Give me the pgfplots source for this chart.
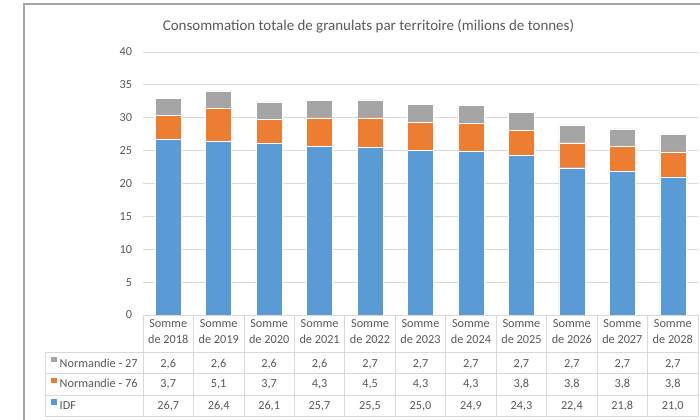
\documentclass[border=0pt]{standalone}
\usepackage{fontspec}
\setmainfont{Carlito}
\usepackage{pgfplots}
\usepackage{pgfplotstable}
\pgfplotsset{compat=1.18}
\definecolor{cblue}{HTML}{5B9BD5}
\definecolor{corange}{HTML}{ED7D31}
\definecolor{cgray}{HTML}{A5A5A5}
\definecolor{txt}{HTML}{595959}
\definecolor{gridc}{HTML}{D9D9D9}
\definecolor{framec}{HTML}{A6A6A6}
\pgfplotstableread{
x idf n76 n27
0 26.7 3.7 2.6
1 26.4 5.1 2.6
2 26.1 3.7 2.6
3 25.7 4.3 2.6
4 25.5 4.5 2.7
5 25.0 4.3 2.7
6 24.9 4.3 2.7
7 24.3 3.8 2.7
8 22.4 3.8 2.7
9 21.8 3.8 2.7
10 21.0 3.8 2.7
}\data
\newcommand{\tf}{\fontsize{12.3}{16}\selectfont}
\pgfkeys{/pgf/number format/.cd, assume math mode=true}
\begin{document}
\begin{tikzpicture}
\path[use as bounding box] (0,0) rectangle (700bp,420bp);
\begin{axis}[
  at={(143bp,105bp)}, anchor=south west,
  width=555bp, height=263bp, scale only axis,
  ymin=0, ymax=40, xmin=-0.5, xmax=10.5,
  ybar stacked, bar width=26bp,
  ytick={0,5,...,40},
  ymajorgrids, grid style={gridc, line width=0.8pt},
  axis line style={draw=none},
  major tick length=0pt,
  xtick={0,...,10},
  xticklabels={Somme\\de 2018,Somme\\de 2019,Somme\\de 2020,Somme\\de 2021,Somme\\de 2022,Somme\\de 2023,Somme\\de 2024,Somme\\de 2025,Somme\\de 2026,Somme\\de 2027,Somme\\de 2028},
  xticklabel style={align=center, font=\tf, text=txt, anchor=north, yshift=-1bp},
  yticklabel style={font=\tf, text=txt, anchor=east, xshift=-7.5bp},
  /pgf/number format/assume math mode=true,
  clip=false,
]
\addplot[fill=cblue, draw=white, line width=0.4pt] table[x=x,y=idf]{\data};
\addplot[fill=corange, draw=white, line width=0.4pt] table[x=x,y=n76]{\data};
\addplot[fill=cgray, draw=white, line width=0.4pt] table[x=x,y=n27]{\data};
\end{axis}
\begin{scope}[x=1bp,y=1bp]
  \node[text=txt, font=\fontsize{15}{18}\selectfont] at (368.5,394) {Consommation totale de granulats par territoire (milions de tonnes)};
  % table grid
  \draw[gridc, line width=0.8pt] (143,105) -- (698,105);
  \foreach \yy in {68,47,25,4} {\draw[gridc, line width=0.8pt] (45,\yy) -- (698,\yy);}
  \draw[gridc, line width=0.8pt] (45,68) -- (45,4);
  \foreach \k in {0,...,11} {\draw[gridc, line width=0.8pt] ({143+50.4545*\k},105) -- ({143+50.4545*\k},4);}
  % legend column
  \fill[cgray] (51,57.5) rectangle (56.5,63);
  \fill[corange] (51,36.5) rectangle (56.5,42);
  \fill[cblue] (51,15) rectangle (56.5,20.5);
  \node[anchor=base west, inner sep=0, text=txt, font=\tf] at (59.5,52.8) {Normandie - 27};
  \node[anchor=base west, inner sep=0, text=txt, font=\tf] at (59.5,32.1) {Normandie - 76};
  \node[anchor=base west, inner sep=0, text=txt, font=\tf] at (59.5,10.4) {IDF};
  \foreach \i in {0,...,10} {
    \pgfplotstablegetelem{\i}{n27}\of\data \let\va\pgfplotsretval
    \node[anchor=base, inner sep=0, text=txt, font=\tf] at ({143+50.4545*(\i+0.5)},52.8) {\pgfmathprintnumber[fixed,fixed zerofill,precision=1,use comma,assume math mode=true]{\va}};
    \pgfplotstablegetelem{\i}{n76}\of\data \let\vb\pgfplotsretval
    \node[anchor=base, inner sep=0, text=txt, font=\tf] at ({143+50.4545*(\i+0.5)},32.1) {\pgfmathprintnumber[fixed,fixed zerofill,precision=1,use comma,assume math mode=true]{\vb}};
    \pgfplotstablegetelem{\i}{idf}\of\data \let\vc\pgfplotsretval
    \node[anchor=base, inner sep=0, text=txt, font=\tf] at ({143+50.4545*(\i+0.5)},10.4) {\pgfmathprintnumber[fixed,fixed zerofill,precision=1,use comma,assume math mode=true]{\vc}};
  }
  % frame
  \draw[framec, line width=2bp] (23.5,0) -- (23.5,415.5) -- (700,415.5);
\end{scope}
\end{tikzpicture}
\end{document}
